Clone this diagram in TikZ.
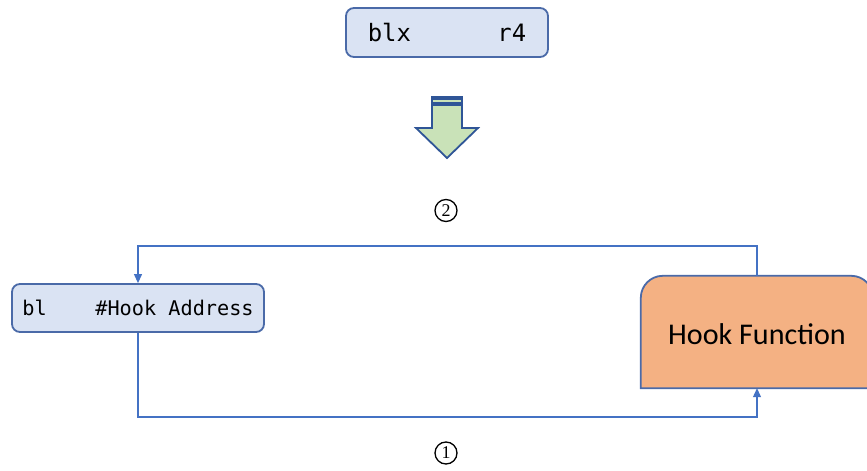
\documentclass[tikz,border=0pt]{standalone}
\usepackage{fontspec}
\setmainfont{Carlito}
\newfontfamily\monof{DejaVu Sans Mono}
\newfontfamily\serf{Liberation Serif}
\usetikzlibrary{arrows.meta}
\definecolor{boxfill}{HTML}{DAE3F3}
\definecolor{boxline}{HTML}{4A6AA8}
\definecolor{connc}{HTML}{4472C4}
\definecolor{hffill}{HTML}{F4B183}
\definecolor{arrfill}{HTML}{C9E2B8}
\definecolor{arrline}{HTML}{2F5597}
\tikzset{
  codebox/.style={draw=boxline, fill=boxfill, line width=1.8bp, rounded corners=8bp, inner sep=0pt, font=\monof},
  conn/.style={draw=connc, line width=1.1bp},
  tip/.style={-{Triangle[length=9bp,width=8bp]}},
  numlabel/.style={circle, draw=black, line width=1.3bp, minimum size=22bp, inner sep=0pt, font=\serf\fontsize{18}{20}\selectfont}
}
\begin{document}
\begin{tikzpicture}[x=1bp,y=-1bp]
\useasboundingbox (0,0) rectangle (867,471);
\fill[white] (0,0) rectangle (867,471);
% top box
\node[codebox, minimum width=202bp, minimum height=49bp, font=\monof\fontsize{24}{28}\selectfont] (top) at (447,32.5) {blx\ \ \ \ \ \ r4};
% block arrow
\filldraw[fill=arrfill, draw=arrline, line width=1.8bp, line join=miter]
  (432,97) -- (462,97) -- (462,128) -- (478,128) -- (447,158) -- (416,128) -- (432,128) -- cycle;
\fill[arrline] (432,97) rectangle (462,100);
\fill[arrline] (432,102.5) rectangle (462,106.5);
\node[numlabel] (n2) at (446,210.5) {2};
% left box
\node[codebox, minimum width=252bp, minimum height=48bp, font=\monof\fontsize{20.3}{24}\selectfont] (lb) at (138,308) {bl\ \ \ \ \#Hook Address};
% hook function
\node[minimum width=232bp, minimum height=112bp, inner sep=0pt] (hf) at (757,332) {};
\begin{scope}
\clip (0,0) rectangle (867,471);
\filldraw[fill=hffill, draw=boxline, line width=1.8bp]
  (hf.south west) [rounded corners=22bp] -- (hf.north west) -- (hf.north east) [sharp corners] -- (hf.south east) -- cycle;
\end{scope}
\node[font=\fontsize{30.2}{34}\selectfont, inner sep=0pt] (hft) at (757,334) {Hook Function};
% connectors
\coordinate (b1) at (lb.south |- 0,417);
\coordinate (t1) at (lb.north |- 0,246);
\draw[conn, tip] (lb.south) -- (b1) -| (hf.south);
\draw[conn, tip] (hf.north) |- (t1) -- (lb.north);
\node[numlabel] (n1) at (446,453) {1};
\end{tikzpicture}
\end{document}
